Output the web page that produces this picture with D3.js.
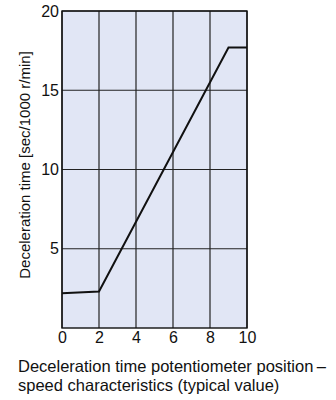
<!DOCTYPE html>
<html>
<head>
<meta charset="utf-8">
<script src="https://cdn.jsdelivr.net/npm/d3@7"></script>
<style>
  body { margin: 0; background: #fff; }
  svg { display: block; font-family: "Liberation Sans", Arial, sans-serif; }
</style>
</head>
<body>
<div id="chart"></div>
<script>
const positions = [0, 2, 9, 10];
const decelTimes = [2.2, 2.3, 17.7, 17.7];
const xTicks = [0, 2, 4, 6, 8, 10];
const yTicks = [5, 10, 15, 20];

const W = 336, H = 400;
const margin = { top: 11, right: 89, bottom: 72, left: 62 };
const width = W - margin.left - margin.right;
const height = H - margin.top - margin.bottom;

const svg = d3.select("#chart")
  .append("svg")
  .attr("width", W)
  .attr("height", H);

const g = svg.append("g")
  .attr("transform", `translate(${margin.left},${margin.top})`);

const x = d3.scaleLinear().domain([0, 10]).range([0, width]);
const y = d3.scaleLinear().domain([0, 20]).range([height, 0]);

// plot background
g.append("rect")
  .attr("width", width)
  .attr("height", height)
  .attr("fill", "#e1e6f5");

// grid
g.selectAll("line.vgrid")
  .data(xTicks)
  .enter()
  .append("line")
  .attr("class", "vgrid")
  .attr("x1", d => x(d)).attr("x2", d => x(d))
  .attr("y1", 0).attr("y2", height)
  .attr("stroke", "#222").attr("stroke-width", 1.2);

g.selectAll("line.hgrid")
  .data(yTicks)
  .enter()
  .append("line")
  .attr("class", "hgrid")
  .attr("x1", 0).attr("x2", width)
  .attr("y1", d => y(d)).attr("y2", d => y(d))
  .attr("stroke", "#222").attr("stroke-width", 1.2);

// frame
g.append("rect")
  .attr("width", width)
  .attr("height", height)
  .attr("fill", "none")
  .attr("stroke", "#111")
  .attr("stroke-width", 1.4);

// bottom axis
const xAxis = g.append("g")
  .attr("transform", `translate(0,${height})`)
  .call(d3.axisBottom(x).tickValues(xTicks).tickSize(0).tickPadding(4));
xAxis.select(".domain").remove();
xAxis.selectAll("text")
  .style("font-size", "16px")
  .attr("fill", "#111");

// left axis
const yAxis = g.append("g")
  .call(d3.axisLeft(y).tickValues(yTicks).tickSize(0).tickPadding(3));
yAxis.select(".domain").remove();
yAxis.selectAll("text")
  .style("font-size", "16px")
  .attr("fill", "#111");

// curve
const data = positions.map((p, i) => ({ p, t: decelTimes[i] }));
g.append("path")
  .datum(data)
  .attr("fill", "none")
  .attr("stroke", "#111")
  .attr("stroke-width", 2)
  .attr("d", d3.line().x(d => x(d.p)).y(d => y(d.t)));

// y label
svg.append("text")
  .attr("transform", "translate(30,165) rotate(-90)")
  .attr("text-anchor", "middle")
  .style("font-size", "15px")
  .attr("fill", "#111")
  .text("Deceleration time [sec/1000 r/min]");

// caption
const cap = svg.append("text")
  .style("font-size", "16.5px")
  .attr("fill", "#111");
cap.append("tspan").attr("x", 18).attr("y", 372)
  .text("Deceleration time potentiometer position\u2009\u2013");
cap.append("tspan").attr("x", 18).attr("y", 391)
  .text("speed characteristics (typical value)");
</script>
</body>
</html>
